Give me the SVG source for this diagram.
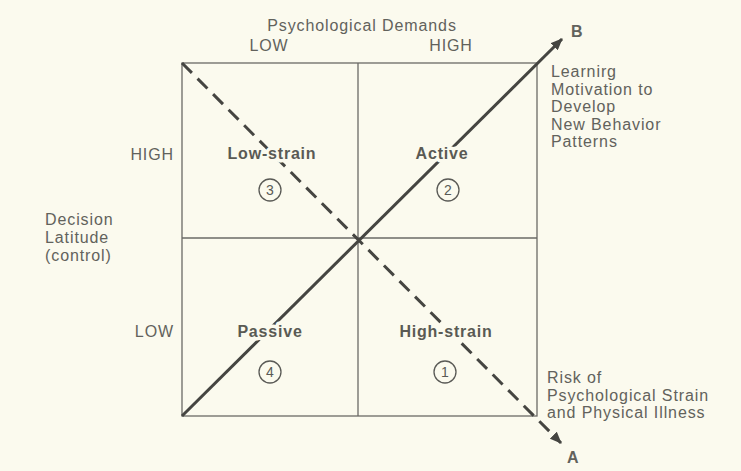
<svg xmlns="http://www.w3.org/2000/svg" width="741" height="471" viewBox="0 0 741 471">
<defs>
<style>
.t{font-family:"Liberation Sans",Arial,sans-serif;font-size:16px;letter-spacing:0.9px;fill:#62625c}
.b{font-family:"Liberation Sans",Arial,sans-serif;font-size:16px;letter-spacing:0.8px;font-weight:bold;fill:#5a5a54;text-anchor:middle;stroke:#fbfaee;stroke-width:7px;paint-order:stroke;stroke-linejoin:round}
.n{font-family:"Liberation Sans",Arial,sans-serif;font-size:14px;fill:#5a5a56;text-anchor:middle}
.grid{stroke:#6a6a66;stroke-width:1.3;fill:none}
.diag{stroke:#454541;stroke-width:3;fill:none}
.circ{stroke:#5a5a56;stroke-width:1.3;fill:none}
</style>
<marker id="ah" viewBox="0 0 12 10" refX="11" refY="5" markerWidth="12" markerHeight="10" markerUnits="userSpaceOnUse" orient="auto">
<path d="M0,0 L12,5 L0,10 Z" fill="#454541"/>
</marker>
</defs>
<rect x="0" y="0" width="741" height="471" fill="#fbfaee"/>
<g id="grid">
<rect class="grid" x="182" y="63" width="355" height="353"/>
<line class="grid" x1="358" y1="63" x2="358" y2="416"/>
<line class="grid" x1="182" y1="238" x2="537" y2="238"/>
</g>
<g id="connectors">
<line class="diag" x1="182" y1="416" x2="562" y2="39" marker-end="url(#ah)"/>
<line class="diag" x1="182" y1="63" x2="561" y2="443" stroke-dasharray="14 8" marker-end="url(#ah)"/>
</g>
<g id="axis-top">
<text class="t" x="362" y="31" text-anchor="middle">Psychological Demands</text>
<text class="t" x="269" y="51" text-anchor="middle">LOW</text>
<text class="t" x="451" y="51" text-anchor="middle">HIGH</text>
</g>
<g id="axis-left">
<text class="t" x="174" y="160" text-anchor="end">HIGH</text>
<text class="t" x="174" y="337" text-anchor="end">LOW</text>
<text class="t" x="45" y="225">Decision</text>
<text class="t" x="45" y="243">Latitude</text>
<text class="t" x="45" y="261">(control)</text>
</g>
<g id="q3">
<text class="b" x="272" y="159">Low-strain</text>
<circle class="circ" cx="270" cy="190" r="11"/>
<text class="n" x="270" y="195">3</text>
</g>
<g id="q2">
<text class="b" x="442" y="159">Active</text>
<circle class="circ" cx="448" cy="190" r="11"/>
<text class="n" x="448" y="195">2</text>
</g>
<g id="q4">
<text class="b" x="270" y="337">Passive</text>
<circle class="circ" cx="270" cy="372" r="11"/>
<text class="n" x="270" y="377">4</text>
</g>
<g id="q1">
<text class="b" x="446" y="337">High-strain</text>
<circle class="circ" cx="445" cy="372" r="11"/>
<text class="n" x="445" y="377">1</text>
</g>
<g id="label-B">
<text class="t" x="571" y="37" font-weight="bold">B</text>
<text class="t" x="551" y="77">Learnirg</text>
<text class="t" x="551" y="95">Motivation to</text>
<text class="t" x="551" y="112">Develop</text>
<text class="t" x="551" y="130">New Behavior</text>
<text class="t" x="551" y="147">Patterns</text>
</g>
<g id="label-A">
<text class="t" x="567" y="463" font-weight="bold">A</text>
<text class="t" x="547" y="383">Risk of</text>
<text class="t" x="547" y="401">Psychological Strain</text>
<text class="t" x="547" y="418">and Physical Illness</text>
</g>
</svg>
